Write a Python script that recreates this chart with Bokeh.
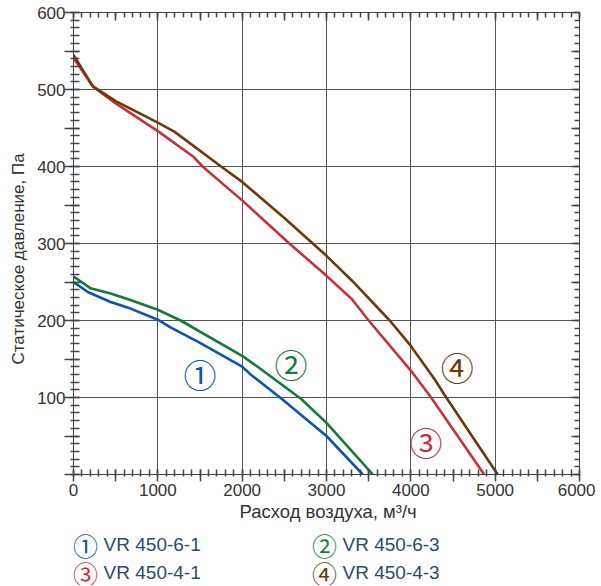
from bokeh.plotting import figure
from bokeh.models import (Range1d, SingleIntervalTicker, LinearAxis, Title,
                          CustomJSTickFormatter, ColumnDataSource)
from bokeh.layouts import column
from bokeh.core.properties import value
from bokeh.embed import file_html
from bokeh.resources import INLINE

# ---- data ----
x1 = [0, 170, 440, 640, 1000, 1150, 1500, 2000, 2100, 2460, 3000, 3430]
y1 = [250, 237, 224, 217, 201, 191, 171, 140, 130, 99, 50, 0]

x2 = [0, 200, 440, 640, 1000, 1270, 2000, 2220, 2700, 3000, 3550]
y2 = [257, 242, 235, 228, 214, 200, 154, 137, 98, 67, 0]

x3 = [0, 230, 500, 1000, 1430, 1530, 2000, 2560, 3000, 3300, 3500, 4000, 4240, 4870]
y3 = [541, 504, 482, 446, 412, 400, 356, 300, 258, 228, 200, 135, 100, 0]

x4 = [0, 230, 500, 1000, 1200, 1750, 2000, 2500, 3000, 3300, 3750, 4000, 4280, 4420, 5030]
y4 = [545, 504, 485, 457, 445, 400, 380, 333, 284, 252, 200, 167, 124, 100, 0]

series_x = [x1, x2, x3, x4]
series_y = [y1, y2, y3, y4]
colors = ["#0b54ad", "#137a3c", "#c9303a", "#6b3a08"]
marks = ["①", "②", "③", "④"]
mark_x = [1500, 2580, 4180, 4550]
mark_y = [130, 143, 42, 139]
legend_names = ["VR 450-6-1", "VR 450-6-3", "VR 450-4-1", "VR 450-4-3"]
legend_x = [143, 2976, 143, 2976]
legend_row = [1, 1, 0, 0]

FONT = "Liberation Sans"
CJK = "Noto Sans CJK JP"
TXT = "#333333"
AX = "#444444"

p = figure(width=595, height=526,
           min_border_left=73, min_border_right=16, min_border_top=12, min_border_bottom=52,
           x_range=Range1d(0, 6000), y_range=Range1d(0, 600),
           output_backend="svg", toolbar_location=None)
p.background_fill_color = "white"
p.border_fill_color = "white"
p.outline_line_color = AX

xa = p.xaxis[0]
xa.ticker = SingleIntervalTicker(interval=500, num_minor_ticks=5)
xa.formatter = CustomJSTickFormatter(code="return (tick % 1000 == 0) ? tick.toFixed(0) : '';")
ya = p.yaxis[0]
ya.ticker = SingleIntervalTicker(interval=50, num_minor_ticks=5)
ya.formatter = CustomJSTickFormatter(code="return (tick % 100 == 0 && tick > 0) ? tick.toFixed(0) : '';")

for ax in (xa, ya):
    ax.axis_line_color = AX
    ax.major_tick_line_color = AX
    ax.minor_tick_line_color = AX
    ax.major_tick_line_width = 1.5
    ax.minor_tick_line_width = 1.5
    ax.major_label_text_font = FONT
    ax.major_label_text_font_size = "17px"
    ax.major_label_text_color = TXT

xa.major_tick_in = 5
xa.major_tick_out = 7
xa.minor_tick_in = 5
xa.minor_tick_out = 2
xa.major_label_standoff = 2

ya.major_tick_in = 6
ya.major_tick_out = 9
ya.minor_tick_in = 6
ya.minor_tick_out = 3
ya.major_label_standoff = -1

top = LinearAxis(ticker=SingleIntervalTicker(interval=500, num_minor_ticks=5),
                 formatter=CustomJSTickFormatter(code="return '';"))
right = LinearAxis(ticker=SingleIntervalTicker(interval=50, num_minor_ticks=5),
                   formatter=CustomJSTickFormatter(code="return '';"))
for ax in (top, right):
    ax.axis_line_color = AX
    ax.major_tick_line_color = AX
    ax.minor_tick_line_color = AX
    ax.major_tick_line_width = 1.5
    ax.minor_tick_line_width = 1.5
    ax.major_tick_in = 8
    ax.major_tick_out = 0
    ax.minor_tick_in = 5
    ax.minor_tick_out = 0
    ax.major_label_text_font_size = "1px"
    ax.major_label_standoff = 0
p.add_layout(top, "above")
p.add_layout(right, "right")

# axis titles (placed as in the original)
xt = Title(text="Расход воздуха, м³/ч", align="left", offset=166,
           text_font=FONT, text_font_size="18.5px", text_font_style="normal",
           text_color=TXT, standoff=0)
p.add_layout(xt, "below")
yt = Title(text="Статическое давление, Па", align="left", offset=110,
           vertical_align="middle",
           text_font=FONT, text_font_size="17px", text_font_style="normal",
           text_color=TXT, standoff=12)
p.add_layout(yt, "left")

p.xgrid.ticker = SingleIntervalTicker(interval=1000, num_minor_ticks=0)
p.ygrid.ticker = SingleIntervalTicker(interval=100, num_minor_ticks=0)
p.xgrid.grid_line_color = "#555555"
p.ygrid.grid_line_color = "#555555"

for xs, ys, c in zip(series_x, series_y, colors):
    p.line(xs, ys, line_color=c, line_width=2.6)

src = ColumnDataSource(dict(x=mark_x, y=mark_y, t=marks, c=colors))
p.text(x="x", y="y", text="t", text_color="c", source=src,
       text_font=value(CJK), text_font_size="33px",
       text_align="center", text_baseline="middle")

# legend panel below the chart (shares the chart's x scale)
leg = figure(width=595, height=59, x_range=p.x_range, y_range=Range1d(-0.464, 1.643),
             output_backend="svg", toolbar_location=None,
             min_border_left=73, min_border_right=16, min_border_top=0, min_border_bottom=0)
leg.axis.visible = False
leg.grid.visible = False
leg.outline_line_color = None
leg.background_fill_color = "white"
leg.border_fill_color = "white"

lsrc = ColumnDataSource(dict(x=legend_x, y=legend_row, tx=[v + 214 for v in legend_x],
                             m=marks, n=legend_names, c=colors))
leg.text(x="x", y="y", text="m", text_color="c", source=lsrc,
         text_font=value(CJK), text_font_size="25px",
         text_align="center", text_baseline="middle")
leg.text(x="tx", y="y", text="n", text_color="#2b4a70", source=lsrc,
         text_font=value(FONT), text_font_size="19px",
         text_align="left", text_baseline="middle")

layout = column(p, leg, spacing=0)
open("out.html", "w").write(file_html(layout, INLINE))
